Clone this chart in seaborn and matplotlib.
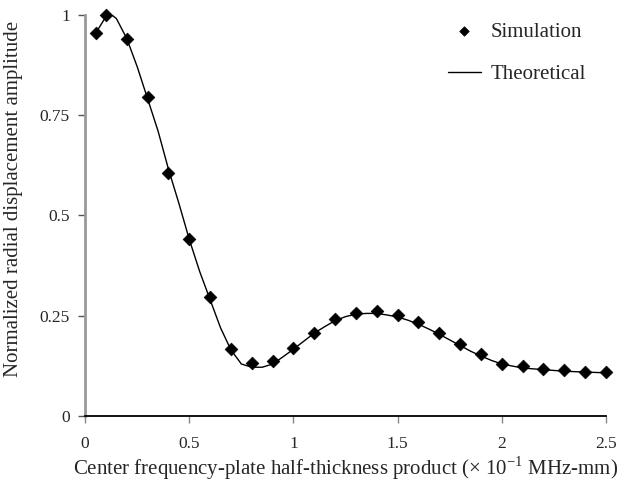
import matplotlib
matplotlib.use("Agg")
import matplotlib.pyplot as plt
import seaborn as sns
import pandas as pd

# Simulation data (markers)
sim_x = [0.05, 0.1, 0.2, 0.3, 0.4, 0.5, 0.6, 0.7, 0.8, 0.9, 1.0, 1.1, 1.2, 1.3,
         1.4, 1.5, 1.6, 1.7, 1.8, 1.9, 2.0, 2.1, 2.2, 2.3, 2.4, 2.5]
sim_y = [0.953, 1.0, 0.94, 0.795, 0.606, 0.44, 0.296, 0.167, 0.133, 0.137, 0.170,
         0.207, 0.242, 0.257, 0.262, 0.252, 0.235, 0.207, 0.181, 0.154, 0.131,
         0.124, 0.117, 0.114, 0.110, 0.109]

# Theoretical curve
theo_x = [0.05, 0.1, 0.125, 0.15, 0.2, 0.25, 0.3, 0.35, 0.4, 0.45, 0.5, 0.55, 0.6,
          0.65, 0.7, 0.75, 0.8, 0.85, 0.9, 0.95, 1.0, 1.05, 1.1, 1.15, 1.2, 1.25,
          1.3, 1.35, 1.4, 1.45, 1.5, 1.55, 1.6, 1.65, 1.7, 1.75, 1.8, 1.85, 1.9,
          1.95, 2.0, 2.1, 2.2, 2.3, 2.4, 2.5]
theo_y = [0.953, 0.995, 1.0, 0.99, 0.94, 0.87, 0.79, 0.71, 0.615, 0.53, 0.44, 0.36,
          0.29, 0.22, 0.165, 0.13, 0.122, 0.122, 0.13, 0.148, 0.167, 0.187, 0.207,
          0.223, 0.238, 0.248, 0.254, 0.256, 0.256, 0.252, 0.247, 0.239, 0.229,
          0.217, 0.204, 0.19, 0.176, 0.162, 0.15, 0.139, 0.13, 0.12, 0.116, 0.112,
          0.11, 0.108]

x_ticks = [0, 0.5, 1, 1.5, 2, 2.5]
x_ticklabels = ["0", "0.5", "1", "1.5", "2", "2.5"]
y_ticks = [0, 0.25, 0.5, 0.75, 1]
y_ticklabels = ["0", "0.25", "0.5", "0.75", "1"]

sns.set_style("white")
plt.rcParams["font.family"] = ["Liberation Serif", "DejaVu Serif"]
plt.rcParams["mathtext.fontset"] = "custom"
plt.rcParams["mathtext.rm"] = "Liberation Serif"

fig = plt.figure(figsize=(6.26, 4.84), dpi=100)
ax = fig.add_axes([0.136, 0.14, 0.832, 0.83])

df_sim = pd.DataFrame({"x": sim_x, "y": sim_y})
df_theo = pd.DataFrame({"x": theo_x, "y": theo_y})

sns.lineplot(data=df_theo, x="x", y="y", ax=ax, color="black", linewidth=1.0,
             label="Theoretical", legend=False, zorder=2)
sns.scatterplot(data=df_sim, x="x", y="y", ax=ax, marker="D", s=42, color="black",
                edgecolor="black", linewidth=0.5, label="Simulation", legend=False,
                zorder=3, clip_on=False)

ax.set_xlim(0, 2.5)
ax.set_ylim(0, 1)
ax.set_xticks(x_ticks)
ax.set_xticklabels(x_ticklabels)
ax.set_yticks(y_ticks)
ax.set_yticklabels(y_ticklabels)

for s in ["top", "right"]:
    ax.spines[s].set_visible(False)
ax.spines["left"].set_color("#999999")
ax.spines["left"].set_linewidth(2.0)
ax.spines["bottom"].set_color("black")
ax.spines["bottom"].set_linewidth(1.3)

ax.tick_params(axis="y", direction="out", length=5, width=1, color="#555555",
               labelsize=12.5, pad=6, left=True)
ax.tick_params(axis="x", direction="out", length=5, width=1, color="#888888",
               labelsize=12.5, pad=9, bottom=True)

ax.set_xlabel(r"Center frequency-plate half-thickness product ($\times$ 10$^{\mathregular{-1}}$ MHz-mm)",
              fontsize=15, labelpad=2)
ax.set_ylabel("Normalized radial displacement amplitude", fontsize=15)
ax.yaxis.set_label_coords(-0.119, 0.54)

handles, labels = ax.get_legend_handles_labels()
order = [labels.index("Simulation"), labels.index("Theoretical")]
leg = ax.legend([handles[i] for i in order], [labels[i] for i in order],
                loc="upper right", bbox_to_anchor=(0.997, 1.028), frameon=False,
                fontsize=15, labelspacing=1.1, handlelength=1.6, handletextpad=0.45,
                markerscale=0.75)

fig.savefig("out.png", dpi=100)
